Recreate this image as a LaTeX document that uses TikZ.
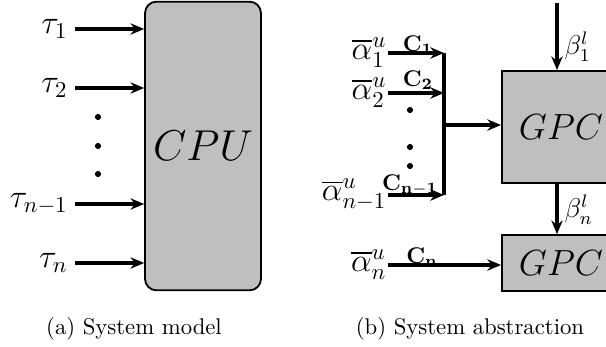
\documentclass[tikz,border=0pt]{standalone}
\usepackage{fix-cm}
\usepackage{amsmath,amssymb}
\usetikzlibrary{arrows.meta,positioning}

\begin{document}
\begin{tikzpicture}[x=0.44pt, y=-0.44pt, >={Stealth[length=6pt,width=5pt]},
  block/.style={draw, line width=0.8pt, fill=black!25, inner sep=0pt},
  flow/.style={->, line width=1.6pt},
  lbl/.style={inner sep=3pt, font=\Large},
  dot/.style={circle, fill, inner sep=0pt, minimum size=2.7pt}]
\useasboundingbox (0,0) rectangle (606,347);
% (a) system model
\node[block, rounded corners=5pt, minimum width=51pt, minimum height=127pt,
  font=\fontsize{19}{23}\selectfont] (cpu) at (203,146) {$CPU$};
\node[lbl, anchor=east] (t1) at (75,29) {$\tau_1$};
\node[lbl, anchor=east] (t2) at (75,88) {$\tau_2$};
\node[lbl, anchor=east] (tn1) at (75,204) {$\tau_{n-1}$};
\node[lbl, anchor=east] (tn) at (75,263) {$\tau_n$};
\node[dot] (da1) at (98,117) {};
\node[dot] (da2) at (98,146) {};
\node[dot] (da3) at (98,174) {};
\path[flow]
(t1) edge (t1 -| cpu.west)
(t2) edge (t2 -| cpu.west)
(tn1) edge (tn1 -| cpu.west)
(tn) edge (tn -| cpu.west);
\node (capa) at (134,329) {(a) System model};

% (b) system abstraction
\node[block, minimum width=52pt, minimum height=49.3pt,
  font=\fontsize{16}{19}\selectfont] (gpc1) at (561,127) {$GPC$};
\node[block, minimum width=52pt, minimum height=24.6pt,
  font=\fontsize{16}{19}\selectfont] (gpc2) at (561,263) {$GPC$};
\node[lbl, inner sep=0.5pt, anchor=east] (a1) at (388,53) {$\overline{\alpha}^u_1$};
\node[lbl, inner sep=0.5pt, anchor=east] (a2) at (388,93) {$\overline{\alpha}^u_2$};
\node[lbl, inner sep=0.5pt, anchor=east] (an1) at (388,195) {$\overline{\alpha}^u_{n-1}$};
\node[lbl, inner sep=0.5pt, anchor=east] (an) at (388,265) {$\overline{\alpha}^u_n$};
\node[inner sep=0.5pt] (c1) at (418,45) {$\mathbf{C_1}$};
\node[inner sep=0.5pt] (c2) at (418,80) {$\mathbf{C_2}$};
\node[inner sep=0.5pt] (cn1) at (410,185) {$\mathbf{C_{n-1}}$};
\node[inner sep=0.5pt] (cn) at (422,257) {$\mathbf{C_n}$};
\node[dot] (db1) at (410,110) {};
\node[dot] (db2) at (410,147) {};
\node[dot] (db3) at (410,166) {};
\coordinate (bar1) at (444,53);
\coordinate (bar2) at (444,195);
\coordinate (jn) at (444,125);
\draw[line width=1.6pt] (bar1) -- (bar2);
\path[flow]
(a1) edge (a1 -| bar1)
(a2) edge (a2 -| bar1)
(an1) edge (an1 -| bar1)
(jn) edge (jn -| gpc1.west)
(an) edge (an -| gpc2.west);
\coordinate (btop) at (557,3);
\path[flow]
(btop) edge (btop |- gpc1.north)
(gpc1.south -| btop) edge (gpc2.north -| btop);
\node[anchor=west, inner sep=1pt, font=\large] (b1) at (562,47) {$\beta^l_1$};
\node[anchor=west, inner sep=1pt, font=\large] (bn) at (562,210) {$\beta^l_n$};
\node (capb) at (470,329) {(b) System abstraction};
\end{tikzpicture}
\end{document}
